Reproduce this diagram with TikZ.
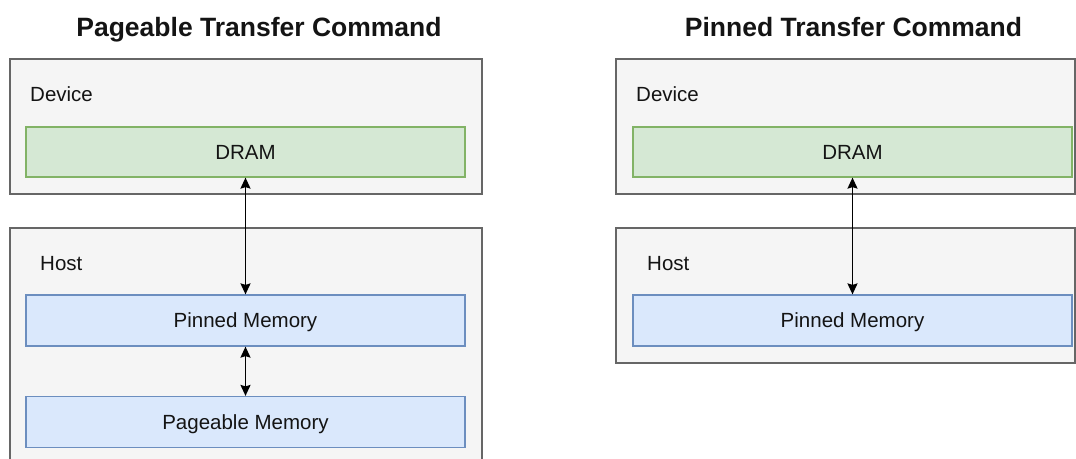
\documentclass[tikz,border=0pt]{standalone}
\usepackage{fontspec}
\setmainfont{Liberation Sans}
\usetikzlibrary{arrows.meta}
\definecolor{grayfill}{HTML}{F5F5F5}
\definecolor{graystroke}{HTML}{666666}
\definecolor{greenfill}{HTML}{D5E8D4}
\definecolor{greenstroke}{HTML}{82B366}
\definecolor{bluefill}{HTML}{DAE8FC}
\definecolor{bluestroke}{HTML}{6C8EBF}
\definecolor{txt}{HTML}{141414}
\tikzset{
  container/.style={draw=graystroke, fill=grayfill, line width=1.2pt, inner sep=0pt},
  boxtext/.style={inner sep=0pt, text height=14.7pt, text depth=0pt, font=\fontsize{20.5}{24}\selectfont, text=txt},
  dram/.style={boxtext, draw=greenstroke, fill=greenfill, line width=1.2pt, minimum width=439pt, minimum height=50pt},
  mem/.style={boxtext, draw=bluestroke, fill=bluefill, line width=1.2pt, minimum width=439pt, minimum height=51pt},
  lbl/.style={anchor=base west, inner sep=0pt, font=\fontsize{20.5}{24}\selectfont, text=txt},
  ttl/.style={anchor=base, inner sep=0pt, font=\bfseries\fontsize{26.5}{30}\selectfont, text=txt},
  link/.style={line width=1.8pt, {Stealth[length=11pt,width=10pt,inset=1.5pt]}-{Stealth[length=11pt,width=10pt,inset=1.5pt]}}
}
\begin{document}
\begin{tikzpicture}[x=1pt,y=-1pt]
\path[use as bounding box] (0,0) rectangle (1076,458);
\clip (0,0) rectangle (1076,458);
\fill[white] (0,0) rectangle (1076,458);
% titles
\node[ttl] (t1) at (259,36) {Pageable Transfer Command};
\node[ttl] (t2) at (853.5,36) {Pinned Transfer Command};
% left panel
\node[container, minimum width=472pt, minimum height=135pt] (devL) at (246,126.5) {};
\node[lbl] (devLl) at (30,101) {Device};
\node[dram] (dramL) at (245.5,152) {DRAM};
\node[container, minimum width=472pt, minimum height=242pt] (hostL) at (246,349) {};
\node[lbl] (hostLl) at (40,270.5) {Host};
\node[mem] (pinL) at (245.5,320.5) {Pinned Memory};
\node[mem] (pageL) at (245.5,422) {Pageable Memory};
\draw[link] (dramL.south) -- (pinL.north);
\draw[link] (pinL.south) -- (pageL.north);
% right panel
\node[container, minimum width=459pt, minimum height=135pt] (devR) at (845.5,126.5) {};
\node[lbl] (devRl) at (636,101) {Device};
\node[dram] (dramR) at (852.5,152) {DRAM};
\node[container, minimum width=459pt, minimum height=135pt] (hostR) at (845.5,295.5) {};
\node[lbl] (hostRl) at (647,270.5) {Host};
\node[mem] (pinR) at (852.5,320.5) {Pinned Memory};
\draw[link] (dramR.south) -- (pinR.north);
\end{tikzpicture}
\end{document}
